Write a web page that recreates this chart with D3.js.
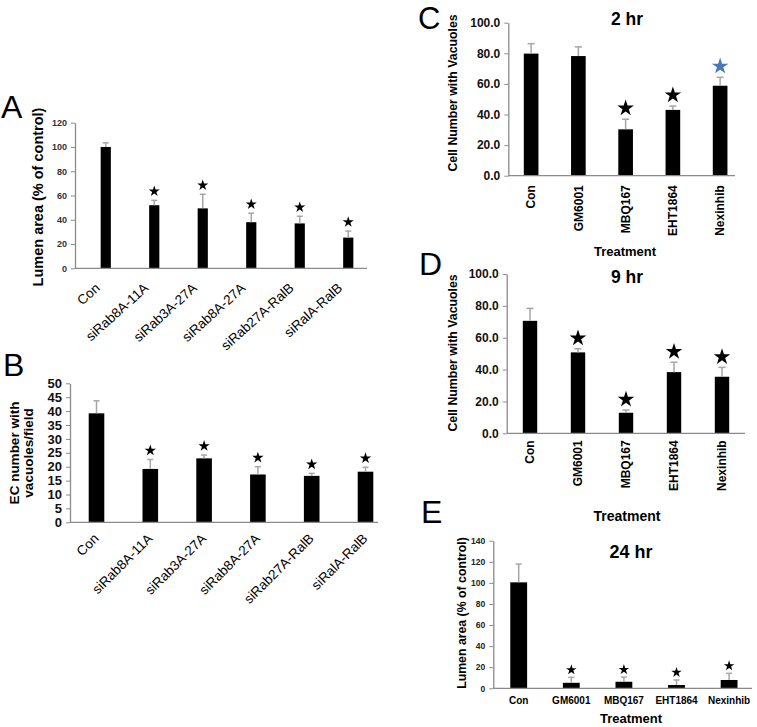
<!DOCTYPE html>
<html><head><meta charset="utf-8">
<script src="https://cdn.jsdelivr.net/npm/d3@7"></script>
<style>body{margin:0;background:#fff}svg{display:block}text{font-family:"Liberation Sans",Arial,Helvetica,sans-serif}</style>
</head><body>
<svg id="fig" width="757" height="727"></svg>
<script>
// ---------- data ----------
const siCategories = ["Con", "siRab8A-11A", "siRab3A-27A", "siRab8A-27A", "siRab27A-RalB", "siRalA-RalB"];
const drugCategories = ["Con", "GM6001", "MBQ167", "EHT1864", "Nexinhib"];

const aValues = [100, 52, 49.4, 38, 37, 25.3];
const aErrors = [3.4, 4, 11.6, 7.4, 5.9, 5.4];
const aStars  = ["", "black", "black", "black", "black", "black"];
const aTicks  = [0, 20, 40, 60, 80, 100, 120];

const bValues = [39.2, 19.2, 23, 17.2, 16.7, 18.2];
const bErrors = [4.5, 3.4, 1.2, 2.8, 0.9, 1.6];
const bStars  = ["", "black", "black", "black", "black", "black"];
const bTicks  = [0, 5, 10, 15, 20, 25, 30, 35, 40, 45, 50];

const cValues = [79.8, 78.2, 30.3, 43, 58.8];
const cErrors = [6.5, 6, 6.6, 2.5, 5.5];
const cStars  = ["", "", "black", "black", "blue"];
const cTicks  = [0, 20, 40, 60, 80, 100];

const dValues = [70.6, 50.8, 12.9, 38.4, 35.5];
const dErrors = [7.8, 2.3, 1.7, 6.2, 5.9];
const dStars  = ["", "black", "black", "black", "black"];
const dTicks  = [0, 20, 40, 60, 80, 100];

const eValues = [100.5, 5.2, 6.2, 3.1, 7.9];
const eErrors = [17.3, 5.2, 4.4, 4.8, 6.3];
const eStars  = ["", "black", "black", "black", "black"];
const eTicks  = [0, 20, 40, 60, 80, 100, 120, 140];

// ---------- drawing ----------
const svg = d3.select("#fig");
const AXIS = "#8a8a8a";
const ERR = "#a6a6a6";
const starColors = {black: "#000", blue: "#4a78b5"};

function panel(o) {
  const g = svg.append("g");
  const x = d3.scaleBand().domain(o.cats).range(o.xRange).paddingInner(0).paddingOuter(0);
  const y = d3.scaleLinear().domain(o.yDomain).range(o.yRange);
  const y0 = y(0);

  // y axis
  const ya = g.append("g").attr("transform", `translate(${o.axisX},0)`)
    .call(d3.axisLeft(y).tickValues(o.ticks).tickFormat(o.fmt).tickSize(4).tickSizeOuter(0).tickPadding(o.tickPad || 4));
  ya.select(".domain").attr("stroke", AXIS).attr("stroke-width", 1.3);
  ya.selectAll(".tick line").attr("stroke", AXIS);
  ya.selectAll(".tick text").attr("fill", o.tickColor || "#111").style("font-size", o.tickSize + "px")
    .style("font-weight", "bold").style("font-family", '"Liberation Sans",Arial,sans-serif');

  // bars
  const bw = x.bandwidth() * o.barFrac;
  const cx = c => x(c) + x.bandwidth() / 2;
  g.selectAll("rect.bar").data(o.values).join("rect").attr("class", "bar")
    .attr("x", (d, i) => cx(o.cats[i]) - bw / 2).attr("y", d => y(d))
    .attr("width", bw).attr("height", d => y0 - y(d)).attr("fill", "#000");

  // x axis line
  g.append("line").attr("x1", o.axisX).attr("x2", o.axisEnd).attr("y1", y0).attr("y2", y0)
    .attr("stroke", AXIS).attr("stroke-width", 1.3);

  // error bars (upper)
  o.values.forEach((v, i) => {
    const xc = cx(o.cats[i]);
    const top = y(v + o.errors[i]);
    g.append("line").attr("x1", xc).attr("x2", xc).attr("y1", y(v)).attr("y2", top)
      .attr("stroke", ERR).attr("stroke-width", 1.5);
    g.append("line").attr("x1", xc - o.cap).attr("x2", xc + o.cap).attr("y1", top).attr("y2", top)
      .attr("stroke", ERR).attr("stroke-width", 1.5);
    if (o.stars[i]) {
      g.append("path").attr("d", d3.symbol(d3.symbolStar, o.starSize)())
        .attr("transform", `translate(${xc},${top - o.starGap})`)
        .attr("fill", starColors[o.stars[i]]);
    }
  });

  // x labels
  o.cats.forEach((c, i) => {
    const xc = cx(c);
    const t = g.append("text").text(c).style("font-size", o.xlSize + "px")
      .style("font-weight", o.xlBold ? "bold" : "normal").attr("fill", "#000");
    if (o.xlMode === "diag") {
      t.attr("text-anchor", "end")
        .attr("transform", `translate(${xc + o.xlDx},${y0 + o.xlDy}) rotate(${o.xlAngle})`);
    } else if (o.xlMode === "vert") {
      t.attr("text-anchor", "end").attr("dy", "0.35em")
        .attr("transform", `translate(${xc},${y0 + o.xlDy}) rotate(-90)`);
    } else {
      t.attr("text-anchor", "middle").attr("x", xc).attr("y", y0 + o.xlDy);
    }
  });

  // y label(s)
  o.ylabel.forEach(l => {
    g.append("text").text(l.t).attr("text-anchor", "middle").attr("dy", "0.35em")
      .attr("transform", `translate(${l.x},${l.y}) rotate(-90)`)
      .style("font-size", o.ylSize + "px").style("font-weight", "bold").attr("fill", "#000");
  });

  if (o.title) svg.append("text").text(o.title.t).attr("x", o.title.x).attr("y", o.title.y)
    .attr("text-anchor", "middle").style("font-size", o.title.s + "px").style("font-weight", "bold");
  if (o.xtitle) svg.append("text").text(o.xtitle.t).attr("x", o.xtitle.x).attr("y", o.xtitle.y)
    .attr("text-anchor", "middle").style("font-size", o.xtitle.s + "px").style("font-weight", "bold");
  svg.append("text").text(o.letter.t).attr("x", o.letter.x).attr("y", o.letter.y)
    .style("font-size", (o.letter.s || 32) + "px").attr("fill", "#000");
}

const f1 = d3.format(".1f");

panel({cats: siCategories, values: aValues, errors: aErrors, stars: aStars, ticks: aTicks, fmt: d3.format("d"),
  xRange: [81.5, 372.5], yDomain: [0, 120], yRange: [268.3, 122.7], axisX: 75, axisEnd: 367,
  barFrac: 0.21, cap: 3, starSize: 38, starGap: 9, tickSize: 9, tickColor: "#333",
  xlMode: "diag", xlSize: 13.5, xlDx: -5, xlDy: 21, xlAngle: -42,
  ylabel: [{t: "Lumen area (% of control)", x: 38, y: 197}], ylSize: 14.5,
  letter: {t: "A", x: 1, y: 118}});

panel({cats: siCategories, values: bValues, errors: bErrors, stars: bStars, ticks: bTicks, fmt: d3.format("d"),
  xRange: [69.6, 392.4], yDomain: [0, 50], yRange: [522.3, 383.3], axisX: 70, axisEnd: 378,
  barFrac: 0.29, cap: 3, starSize: 40, starGap: 9, tickSize: 13,
  xlMode: "diag", xlSize: 13.5, xlDx: 3, xlDy: 17, xlAngle: -45,
  ylabel: [{t: "EC number with", x: 14, y: 453}, {t: "vacuoles/field", x: 28, y: 453}], ylSize: 13.5,
  letter: {t: "B", x: 3, y: 376}});

panel({cats: drugCategories, values: cValues, errors: cErrors, stars: cStars, ticks: cTicks, fmt: f1,
  xRange: [507.5, 743.75], yDomain: [0, 100], yRange: [175.7, 22.7], axisX: 508.3, axisEnd: 735,
  barFrac: 0.31, cap: 3.5, starSize: 85, starGap: 11, tickSize: 12,
  xlMode: "vert", xlSize: 12, xlBold: true, xlDy: 9.5,
  ylabel: [{t: "Cell Number with Vacuoles", x: 453, y: 93}], ylSize: 12.3,
  title: {t: "2 hr", x: 627, y: 25, s: 17.5},
  xtitle: {t: "Treatment", x: 625, y: 256, s: 13},
  letter: {t: "C", x: 418, y: 29, s: 31}});

panel({cats: drugCategories, values: dValues, errors: dErrors, stars: dStars, ticks: dTicks, fmt: f1,
  xRange: [506, 746], yDomain: [0, 100], yRange: [433.3, 274], axisX: 506.7, axisEnd: 745,
  barFrac: 0.30, cap: 3.5, starSize: 85, starGap: 10.5, tickSize: 12,
  xlMode: "vert", xlSize: 12, xlBold: true, xlDy: 7,
  ylabel: [{t: "Cell Number with Vacuoles", x: 453, y: 353}], ylSize: 12.3,
  title: {t: "9 hr", x: 627, y: 283, s: 17.5},
  xtitle: {t: "Treatment", x: 627, y: 521, s: 14},
  letter: {t: "D", x: 419, y: 275}});

panel({cats: drugCategories, values: eValues, errors: eErrors, stars: eStars, ticks: eTicks, fmt: d3.format("d"),
  xRange: [492.4, 755.4], yDomain: [0, 140], yRange: [688.3, 540.7], axisX: 493.3, axisEnd: 752,
  barFrac: 0.32, cap: 3, starSize: 34, starGap: 7.5, tickSize: 8.5, tickColor: "#222",
  xlMode: "horiz", xlSize: 10, xlBold: true, xlDy: 16,
  ylabel: [{t: "Lumen area (% of control)", x: 462, y: 613}], ylSize: 12.3,
  title: {t: "24 hr", x: 631, y: 558, s: 18},
  xtitle: {t: "Treatment", x: 631, y: 723, s: 13},
  letter: {t: "E", x: 421, y: 523}});
</script>
</body></html>
